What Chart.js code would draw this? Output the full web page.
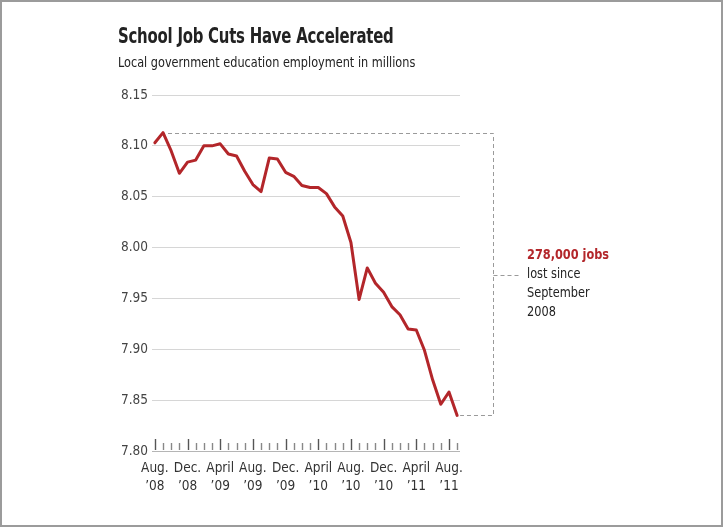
<!DOCTYPE html>
<html>
<head>
<meta charset="utf-8">
<title>School Job Cuts Have Accelerated</title>
<script src="https://cdn.jsdelivr.net/npm/chart.js@4"></script>
<style>
    html, body { margin: 0; padding: 0; background: #fff; }
    #wrap { position: relative; width: 723px; height: 527px; overflow: hidden; }
    #chart { position: absolute; left: 0; top: 0; }
    .narrow { font-family: 'Liberation Sans Narrow', 'DejaVu Sans Condensed', sans-serif; transform-origin: 0 0; }
    #title { position: absolute; left: 118px; top: 24px; font-size: 21px; font-weight: bold; color: #222; white-space: nowrap; letter-spacing: -0.3px; transform: scaleX(0.79); }
    #subtitle { position: absolute; left: 118px; top: 54px; font-size: 13.5px; color: #222; white-space: nowrap; transform: scaleX(0.93); }
    #note { position: absolute; left: 527px; top: 245px; font-size: 14px; line-height: 19px; color: #222; transform: scaleX(0.9); }
    #note b { color: #b3272b; }
    #frame { position: absolute; left: 0; top: 0; width: 723px; height: 527px; box-sizing: border-box; border: 2px solid #9b9b9b; pointer-events: none; }
</style>
</head>
<body>
<div id="wrap">
    <canvas id="chart" width="723" height="527"></canvas>
    <div id="title" class="narrow">School Job Cuts Have Accelerated</div>
    <div id="subtitle" class="narrow">Local government education employment in millions</div>
    <div id="note" class="narrow"><b>278,000 jobs</b><br>lost since<br>September<br>2008</div>
    <div id="frame"></div>
</div>
<script>
// Monthly data, Aug 2008 - Sep 2011
const months = [
    'Aug 2008', 'Sep 2008', 'Oct 2008', 'Nov 2008', 'Dec 2008',
    'Jan 2009', 'Feb 2009', 'Mar 2009', 'Apr 2009', 'May 2009', 'Jun 2009',
    'Jul 2009', 'Aug 2009', 'Sep 2009', 'Oct 2009', 'Nov 2009', 'Dec 2009',
    'Jan 2010', 'Feb 2010', 'Mar 2010', 'Apr 2010', 'May 2010', 'Jun 2010',
    'Jul 2010', 'Aug 2010', 'Sep 2010', 'Oct 2010', 'Nov 2010', 'Dec 2010',
    'Jan 2011', 'Feb 2011', 'Mar 2011', 'Apr 2011', 'May 2011', 'Jun 2011',
    'Jul 2011', 'Aug 2011', 'Sep 2011'
];
const employment = [
    8.103, 8.113, 8.095, 8.073, 8.084,
    8.086, 8.100, 8.100, 8.102, 8.092, 8.090,
    8.075, 8.062, 8.055, 8.088, 8.087, 8.074,
    8.070, 8.061, 8.059, 8.059, 8.053, 8.040,
    8.031, 8.005, 7.949, 7.980, 7.965, 7.956,
    7.942, 7.934, 7.920, 7.919, 7.899, 7.870,
    7.846, 7.858, 7.835
];
// labelled every fourth month
const tickLabels = [
    ['Aug.', '\u201908'], ['Dec.', '\u201908'], ['April', '\u201909'], ['Aug.', '\u201909'],
    ['Dec.', '\u201909'], ['April', '\u201910'], ['Aug.', '\u201910'], ['Dec.', '\u201910'],
    ['April', '\u201911'], ['Aug.', '\u201911']
];
const yTicks = [7.80, 7.85, 7.90, 7.95, 8.00, 8.05, 8.10, 8.15];

const narrowFont = "'Liberation Sans Narrow', 'DejaVu Sans Condensed', sans-serif";

/**
 * Month tick marks above the axis, plus the dashed bracket
 */
const extrasPlugin = {
    id: 'extras',
    afterDatasetsDraw(chart) {
        const ctx = chart.ctx;
        const x = chart.scales.x;
        const y = chart.scales.y;
        const base = y.getPixelForValue(yTicks[0]);

        ctx.save();
        ctx.lineWidth = 1.4;
        months.forEach((m, i) => {
            const px = Math.round(x.getPixelForValue(i)) + 0.5;
            const major = i % 4 === 0;
            ctx.strokeStyle = major ? '#555' : '#888';
            ctx.beginPath();
            ctx.moveTo(px, base - 1);
            ctx.lineTo(px, base - (major ? 12 : 8));
            ctx.stroke();
        });

        // bracket from the peak to the latest month
        const peak = Math.max(...employment);
        const peakIdx = employment.indexOf(peak);
        const last = employment.length - 1;
        const yTop = Math.round(y.getPixelForValue(peak)) + 0.5;
        const yBot = Math.round(y.getPixelForValue(employment[last])) + 0.5;
        const xBox = 493.5;
        const yMid = Math.round((yTop + yBot) / 2) + 0.5;

        ctx.strokeStyle = '#9a9a9a';
        ctx.lineWidth = 1;
        ctx.setLineDash([4, 3]);
        ctx.beginPath();
        ctx.moveTo(x.getPixelForValue(peakIdx) + 5, yTop);
        ctx.lineTo(xBox, yTop);
        ctx.lineTo(xBox, yBot);
        ctx.lineTo(x.getPixelForValue(last) + 3, yBot);
        ctx.moveTo(xBox, yMid);
        ctx.lineTo(xBox + 28, yMid);
        ctx.stroke();
        ctx.restore();
    }
};

new Chart(document.getElementById('chart'), {
    type: 'line',
    data: {
        datasets: [{
            data: employment.map((v, i) => ({ x: i, y: v })),
            borderColor: '#b3262a',
            borderWidth: 3,
            pointRadius: 0,
            tension: 0,
            borderJoinStyle: 'round',
            borderCapStyle: 'round'
        }]
    },
    options: {
        responsive: false,
        animation: false,
        layout: { padding: { left: 0, right: 263, top: 95, bottom: 0 } },
        plugins: {
            legend: { display: false },
            tooltip: { enabled: false }
        },
        scales: {
            x: {
                type: 'linear',
                min: -0.35,
                max: months.length - 1 + 0.35,
                afterBuildTicks: (s) => { s.ticks = tickLabels.map((t, k) => ({ value: k * 4 })); },
                afterFit: (s) => { s.height = 76; },
                grid: { display: false },
                border: { display: false },
                ticks: {
                    autoSkip: false,
                    maxRotation: 0,
                    padding: 1,
                    color: '#333',
                    font: { family: narrowFont, size: 13.5, lineHeight: 1.32 },
                    callback: (v) => tickLabels[v / 4]
                }
            },
            y: {
                min: yTicks[0],
                max: yTicks[yTicks.length - 1],
                afterBuildTicks: (s) => { s.ticks = yTicks.map(v => ({ value: v })); },
                afterFit: (s) => { s.width = 152; },
                grid: {
                    drawTicks: false,
                    color: (c) => c.tick && c.tick.value === yTicks[0] ? '#b5b5b5' : '#d6d6d6',
                    lineWidth: 1
                },
                border: { display: false },
                ticks: {
                    padding: 4,
                    color: '#444',
                    font: { family: narrowFont, size: 13.5 },
                    callback: (v) => v.toFixed(2)
                }
            }
        }
    },
    plugins: [extrasPlugin]
});
</script>
</body>
</html>
